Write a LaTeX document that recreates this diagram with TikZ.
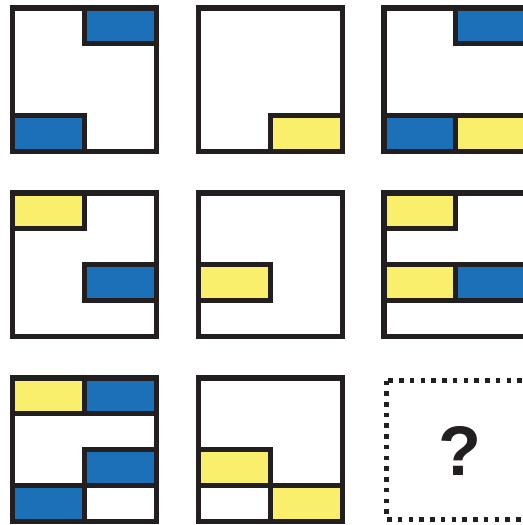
\documentclass[tikz,border=0pt]{standalone}
\usepackage{fontspec}
\setmainfont{Liberation Sans}
\definecolor{cellblue}{RGB}{27,112,184}
\definecolor{cellyellow}{RGB}{249,239,107}
\definecolor{edgeblack}{RGB}{35,31,32}
\tikzset{
  frame/.style={draw=edgeblack,line width=0.11cm,fill=white},
  bluecell/.style={frame,fill=cellblue},
  yellowcell/.style={frame,fill=cellyellow},
  emptycell/.style={frame},
  blank/.style={draw=edgeblack,line width=0.1cm,dash pattern=on 0.09cm off 0.125cm},
}

\begin{document}
\begin{tikzpicture}[x=0.02cm,y=-0.02cm]
\useasboundingbox (0,0) rectangle (523,525);
\clip (0,0) rectangle (523,525);

% row 1
\begin{scope}[shift={(10,5)}]
\draw[frame] (2.75,2.75) rectangle (146.25,146.25);
\draw[bluecell] (74.5,2.75) rectangle (146.25,38.625);
\draw[bluecell] (2.75,110.375) rectangle (74.5,146.25);
\end{scope}
\begin{scope}[shift={(196,5)}]
\draw[frame] (2.75,2.75) rectangle (146.25,146.25);
\draw[yellowcell] (74.5,110.375) rectangle (146.25,146.25);
\end{scope}
\begin{scope}[shift={(381,5)}]
\draw[frame] (2.75,2.75) rectangle (146.25,146.25);
\draw[bluecell] (74.5,2.75) rectangle (146.25,38.625);
\draw[bluecell] (2.75,110.375) rectangle (74.5,146.25);
\draw[yellowcell] (74.5,110.375) rectangle (146.25,146.25);
\end{scope}

% row 2
\begin{scope}[shift={(10,190)}]
\draw[frame] (2.75,2.75) rectangle (146.25,146.25);
\draw[yellowcell] (2.75,2.75) rectangle (74.5,38.625);
\draw[bluecell] (74.5,74.5) rectangle (146.25,110.375);
\end{scope}
\begin{scope}[shift={(196,190)}]
\draw[frame] (2.75,2.75) rectangle (146.25,146.25);
\draw[yellowcell] (2.75,74.5) rectangle (74.5,110.375);
\end{scope}
\begin{scope}[shift={(381,190)}]
\draw[frame] (2.75,2.75) rectangle (146.25,146.25);
\draw[yellowcell] (2.75,2.75) rectangle (74.5,38.625);
\draw[yellowcell] (2.75,74.5) rectangle (74.5,110.375);
\draw[bluecell] (74.5,74.5) rectangle (146.25,110.375);
\end{scope}

% row 3
\begin{scope}[shift={(10,375)}]
\draw[frame] (2.75,2.75) rectangle (146.25,146.25);
\draw[yellowcell] (2.75,2.75) rectangle (74.5,38.625);
\draw[bluecell] (74.5,2.75) rectangle (146.25,38.625);
\draw[bluecell] (74.5,74.5) rectangle (146.25,110.375);
\draw[bluecell] (2.75,110.375) rectangle (74.5,146.25);
\draw[emptycell] (74.5,110.375) rectangle (146.25,146.25);
\end{scope}
\begin{scope}[shift={(196,375)}]
\draw[frame] (2.75,2.75) rectangle (146.25,146.25);
\draw[yellowcell] (2.75,74.5) rectangle (74.5,110.375);
\draw[emptycell] (2.75,110.375) rectangle (74.5,146.25);
\draw[yellowcell] (74.5,110.375) rectangle (146.25,146.25);
\end{scope}
\draw[blank] (386,380.5) rectangle (525,519);
\node[font=\bfseries\fontsize{40}{48}\selectfont,text=edgeblack] (qmark) at (460,451) {?};

\end{tikzpicture}
\end{document}
